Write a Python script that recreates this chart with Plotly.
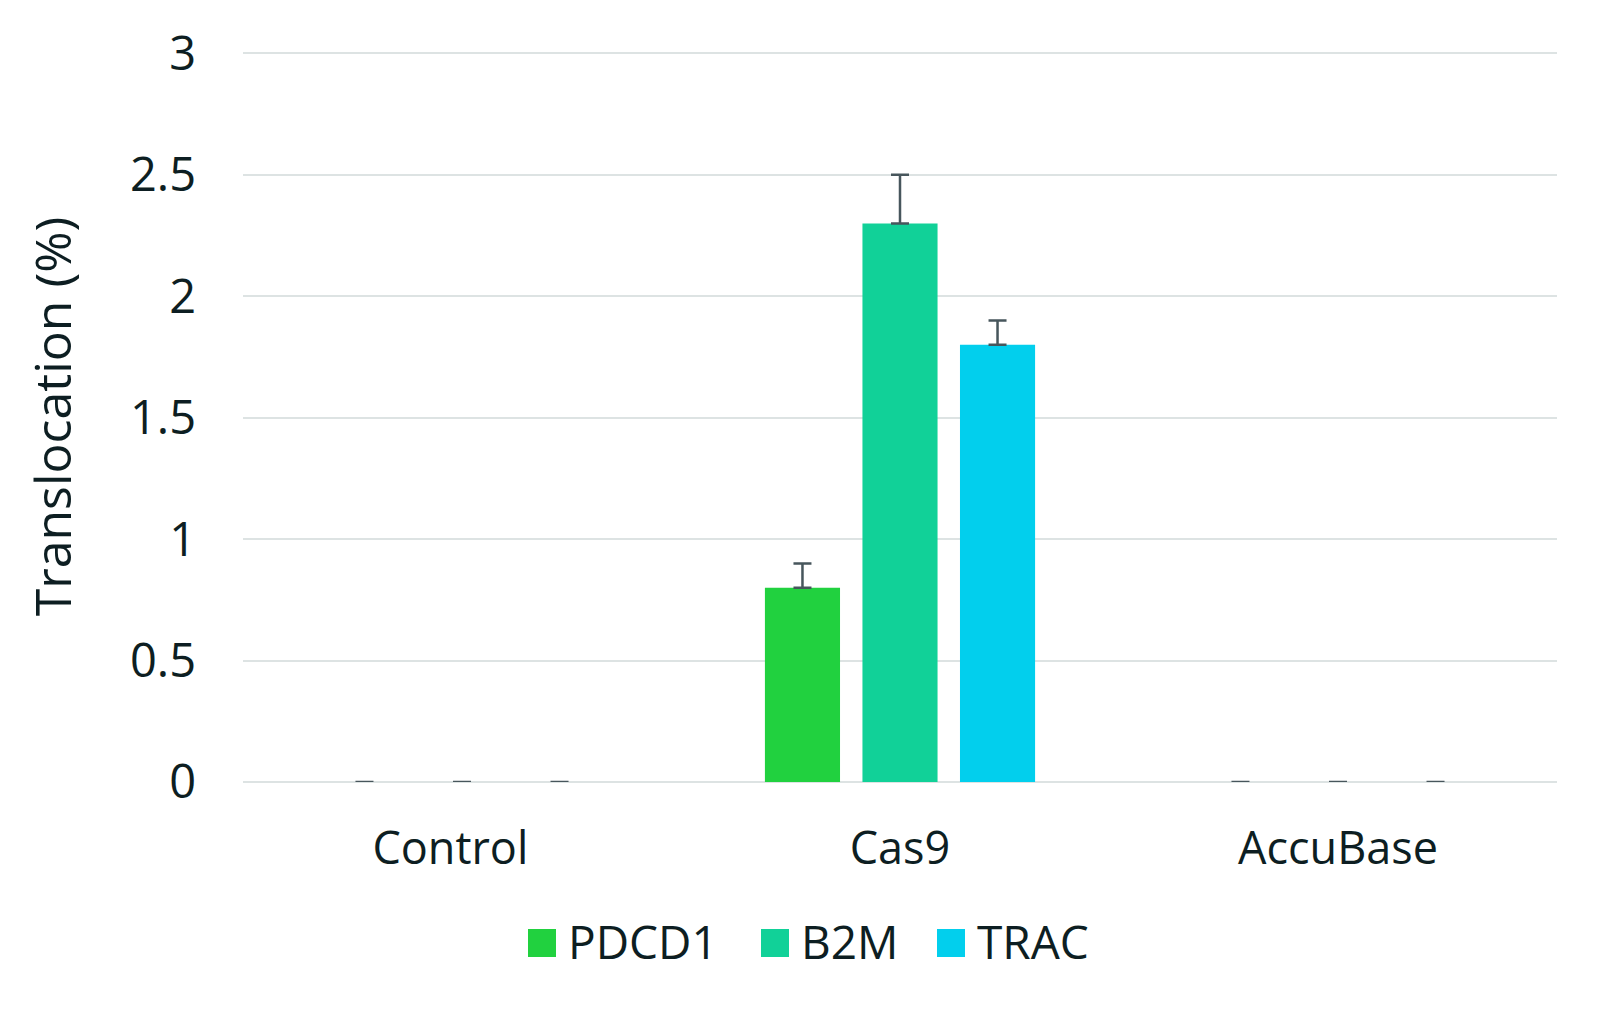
import plotly.graph_objects as go

categories = ["Control", "Cas9", "AccuBase"]
category_labels = ["Control\u00a0\u00a0", "Cas9", "AccuBase"]
series_names = ["PDCD1", "B2M", "TRAC"]
values = {
    "PDCD1": [0, 0.8, 0],
    "B2M": [0, 2.3, 0],
    "TRAC": [0, 1.8, 0],
}
errors = {
    "PDCD1": [0, 0.1, 0],
    "B2M": [0, 0.2, 0],
    "TRAC": [0, 0.1, 0],
}
colors = {"PDCD1": "#21d13f", "B2M": "#11d198", "TRAC": "#02cfed"}
y_ticks = [0, 0.5, 1, 1.5, 2, 2.5, 3]
y_tick_labels = ["0", "0.5", "1", "1.5", "2", "2.5", "3"]

TEXT = "#0d1e22"
FONT = "Open Sans"

fig = go.Figure()
for name in series_names:
    fig.add_trace(go.Bar(
        x=categories, y=values[name], name=name,
        marker=dict(color=colors[name], line=dict(width=0)),
        error_y=dict(type="data", array=errors[name], symmetric=False,
                     arrayminus=[0] * len(categories),
                     color="#47565c", thickness=2.5, width=9),
        showlegend=False,
    ))

# legend drawn as squares + labels below the plot (pixel positions relative to figure)
plot_l, plot_r, plot_t, plot_b = 235, 1549, 43, 774
pw = plot_r - plot_l
ph = plot_b - plot_t
sq = 28
for i, name in enumerate(series_names):
    px_left = [520, 753, 929][i]
    fig.add_shape(type="rect", xref="paper", yref="paper",
                  x0=(px_left - plot_l) / pw, x1=(px_left + sq - plot_l) / pw,
                  y0=(plot_b - 949) / ph, y1=(plot_b - 921) / ph,
                  fillcolor=colors[name], line=dict(width=0))
    fig.add_annotation(xref="paper", yref="paper",
                       x=(px_left + sq + 10 - plot_l) / pw,
                       y=(plot_b - 933) / ph,
                       text=name, showarrow=False, xanchor="left", yanchor="middle",
                       font=dict(family=FONT, size=46, color=TEXT))

fig.update_layout(
    width=1600, height=1011,
    paper_bgcolor="white", plot_bgcolor="white",
    margin=dict(l=plot_l, r=1600 - plot_r, t=plot_t, b=1011 - plot_b),
    barmode="group", bargap=0.332, bargroupgap=0.23,
    font=dict(family=FONT, color=TEXT, size=44),
    xaxis=dict(showgrid=False, showline=False, zeroline=False,
               tickvals=categories, ticktext=category_labels,
               tickfont=dict(family=FONT, size=45, color=TEXT),
               ticks="", ticklabelstandoff=36),
    yaxis=dict(range=[0, 3.01], tickvals=y_ticks, ticktext=y_tick_labels,
               showgrid=True, gridcolor="#dde3e3", gridwidth=2,
               zeroline=True, zerolinecolor="#dde3e3", zerolinewidth=2,
               showline=False, ticks="",
               tickfont=dict(family=FONT, size=47, color=TEXT),
               ticklabelstandoff=46,
               title=dict(text="Translocation (%)", standoff=42,
                          font=dict(family=FONT, size=50, color=TEXT))),
)

fig.write_html("out.html")
